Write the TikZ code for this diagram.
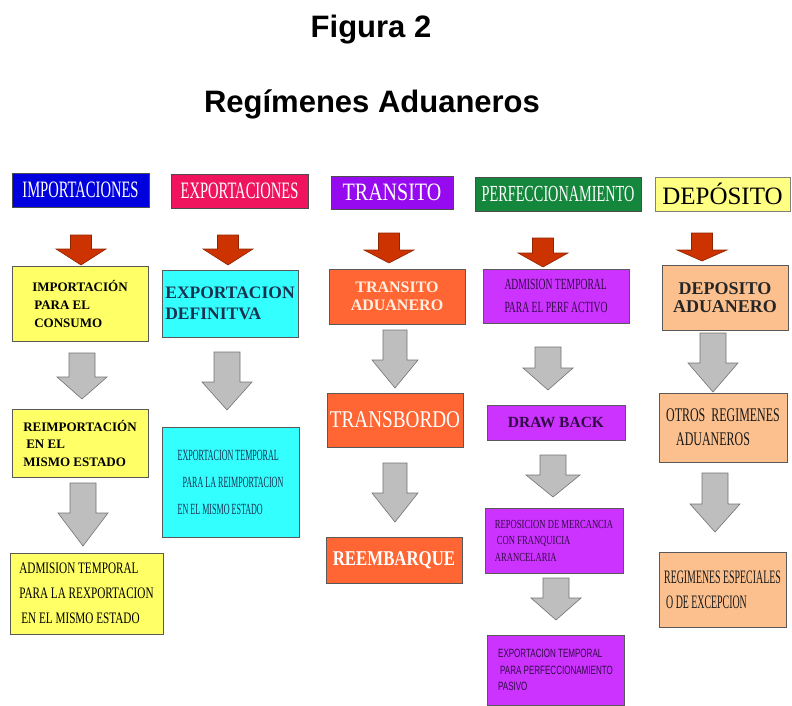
\documentclass[tikz,border=0pt]{standalone}
\usepackage{fontspec}
\setmainfont{Liberation Serif}
\newfontfamily\titlefont{Liberation Sans}
\newfontfamily\serifxn{Liberation Serif}[FakeStretch=0.52]
\newfontfamily\serifn{Liberation Serif}[FakeStretch=0.62]
\newfontfamily\serifm{Liberation Serif}[FakeStretch=0.7]
\newfontfamily\serifs{Liberation Serif}[FakeStretch=0.8]
\newfontfamily\sansn{Liberation Sans}[FakeStretch=0.67]

\definecolor{impblue}{RGB}{0,0,222}
\definecolor{exppink}{RGB}{240,20,95}
\definecolor{trapurple}{RGB}{150,10,240}
\definecolor{pergreen}{RGB}{20,135,60}
\definecolor{depyellow}{RGB}{255,255,130}
\definecolor{boxyellow}{RGB}{255,255,102}
\definecolor{boxcyan}{RGB}{51,255,255}
\definecolor{boxorange}{RGB}{255,102,51}
\definecolor{boxpurple}{RGB}{204,51,255}
\definecolor{boxpeach}{RGB}{252,192,142}
\definecolor{arrowred}{RGB}{204,51,0}
\definecolor{arrowgray}{RGB}{190,190,190}
\definecolor{cyantext}{RGB}{25,50,80}
\definecolor{purpletext}{RGB}{50,10,70}
\definecolor{cream}{RGB}{255,240,225}

\tikzset{every picture/.style={line width=0.75pt}}
\tikzset{
	head/.style={draw=black!70, line width=0.8pt, minimum height=34pt, inner sep=0pt, text=white},
	box/.style={draw=black!65, line width=0.8pt, inner sep=0pt, align=left},
	redarrow/.style={fill=arrowred, draw=arrowred!70!black, line width=0.6pt},
	grayarrow/.style={fill=arrowgray, draw=black!55, line width=0.6pt},
	pics/downarrow/.style args={#1/#2/#3/#4}{code={
		\path[pic actions] (-#3,0) -- (#3,0) -- (#3,-#1) -- (#4,-#1) -- (0,-#2) -- (-#4,-#1) -- (-#3,-#1) -- cycle ;}}
}

\begin{document}
\begin{tikzpicture}[x=1pt,y=1pt,yscale=-1,xscale=1]
	\useasboundingbox (0,0) rectangle (792,706);

	% Title
	\node[anchor=base, font=\titlefont\bfseries\fontsize{31}{31}\selectfont] (fig) at (371,38) {Figura 2};
	\node[anchor=base, font=\titlefont\bfseries\fontsize{31}{31}\selectfont] (tit) at (372,113) {Regímenes Aduaneros};

	%Shape: Header boxes
	\node[head, fill=impblue, minimum width=137pt, font=\serifn\fontsize{23.5}{23.5}\selectfont] (himp) at (80.5,190) {IMPORTACIONES};
	\node[head, fill=exppink, minimum width=137pt, font=\serifn\fontsize{23.5}{23.5}\selectfont] (hexp) at (239.5,191) {EXPORTACIONES};
	\node[head, fill=trapurple, minimum width=122pt, minimum height=33pt, font=\serifs\fontsize{25}{25}\selectfont] (htra) at (392,192.5) {TRANSITO};
	\node[head, fill=pergreen, minimum width=166pt, font=\serifn\fontsize{23}{23}\selectfont] (hper) at (558,194) {PERFECCIONAMIENTO};
	\node[head, fill=depyellow, draw=black!50, text=black, minimum width=135pt, font=\fontsize{25}{25}\selectfont] (hdep) at (722.5,194) {DEPÓSITO};

	%Shape: Red arrows
	\pic[redarrow] at (81,235) {downarrow=14/30/10.5/25};
	\pic[redarrow] at (228,235) {downarrow=14/30/10.5/25};
	\pic[redarrow] at (389,233) {downarrow=17/30/10.5/25};
	\pic[redarrow] at (543,238) {downarrow=15/29/10.5/25};
	\pic[redarrow] at (702,233) {downarrow=17/28/10.5/25};

	%Shape: Importaciones
	\node[box, fill=boxyellow, minimum width=136pt, minimum height=75pt, font=\bfseries\fontsize{13}{18}\selectfont] (imp1) at (80,303.5) {IMPORTACIÓN\\\hspace*{2pt}PARA EL\\\hspace*{2pt}CONSUMO};
	\node[box, fill=boxyellow, minimum width=136pt, minimum height=68pt, font=\bfseries\fontsize{13}{17.5}\selectfont] (imp2) at (80,443) {REIMPORTACIÓN\\\hspace*{3pt}EN EL\\MISMO ESTADO};
	\node[box, fill=boxyellow, minimum width=153pt, minimum height=81pt, font=\serifm\fontsize{16}{25}\selectfont] (imp3) at (86.5,593.5) {ADMISION TEMPORAL\\PARA LA REXPORTACION\\\hspace*{2pt}EN EL MISMO ESTADO};

	%Shape: Exportaciones
	\node[box, fill=boxcyan, text=cyantext, minimum width=136pt, minimum height=67pt, font=\bfseries\fontsize{17.5}{21}\selectfont] (exp1) at (230,303.5) {EXPORTACION\\DEFINITVA};
	\node[box, fill=boxcyan, text=cyantext, minimum width=137pt, minimum height=110pt, font=\serifxn\fontsize{15.5}{27}\selectfont] (exp2) at (230.5,482) {EXPORTACION TEMPORAL\\\hspace*{5pt}PARA LA REIMPORTACION\\EN EL MISMO ESTADO};

	%Shape: Transito
	\node[box, align=center, fill=boxorange, text=cream, minimum width=136pt, minimum height=55pt, font=\bfseries\fontsize{16}{18}\selectfont] (tra1) at (397,296.5) {TRANSITO\\ADUANERO};
	\node[box, fill=boxorange, text=white, minimum width=136pt, minimum height=54pt, font=\serifs\fontsize{24}{24}\selectfont] (tra2) at (395,420) {TRANSBORDO};
	\node[box, fill=boxorange, text=white, minimum width=136pt, minimum height=46pt, font=\serifs\bfseries\fontsize{21}{21}\selectfont] (tra3) at (394,560) {REEMBARQUE};

	%Shape: Perfeccionamiento
	\node[box, fill=boxpurple, text=purpletext, minimum width=146pt, minimum height=54pt, font=\serifn\fontsize{15.5}{23}\selectfont] (per1) at (556,296) {ADMISION TEMPORAL\\PARA EL PERF ACTIVO};
	\node[box, fill=boxpurple, text=purpletext, minimum width=138pt, minimum height=35pt, font=\bfseries\fontsize{15.5}{15.5}\selectfont] (per2) at (556,422.5) {DRAW BACK};
	\node[box, fill=boxpurple, text=purpletext, minimum width=138pt, minimum height=65pt, font=\serifm\fontsize{12.3}{16.5}\selectfont] (per3) at (554,540.5) {REPOSICION DE MERCANCIA\\\hspace*{2pt}CON FRANQUICIA\\ARANCELARIA};
	\node[box, fill=boxpurple, text=purpletext, minimum width=137pt, minimum height=70pt, font=\sansn\fontsize{12}{16.5}\selectfont] (per4) at (555.5,670) {EXPORTACION TEMPORAL\\\hspace*{2pt}PARA PERFECCIONAMIENTO\\PASIVO};

	%Shape: Deposito
	\node[box, align=center, fill=boxpeach, text=black!85, minimum width=126pt, minimum height=65pt, font=\bfseries\fontsize{18}{17.5}\selectfont] (dep1) at (725,297.5) {DEPOSITO\\ADUANERO};
	\node[box, fill=boxpeach, text=black!90, minimum width=128pt, minimum height=69pt, font=\serifn\fontsize{19.3}{24}\selectfont] (dep2) at (723,427.5) {OTROS\ \ REGIMENES\\\hspace*{10pt}ADUANEROS};
	\node[box, fill=boxpeach, text=black!90, minimum width=127pt, minimum height=75pt, font=\serifxn\fontsize{19}{25}\selectfont] (dep3) at (722.5,589.5) {REGIMENES ESPECIALES\\\hspace*{2pt}O DE EXCEPCION};

	%Shape: Gray arrows
	\pic[grayarrow] at (82,353) {downarrow=24/46/13/25};
	\pic[grayarrow] at (83,483) {downarrow=30/63/13/25};
	\pic[grayarrow] at (227,352) {downarrow=30/58/13/25};
	\pic[grayarrow] at (395,330) {downarrow=30/58/12/23};
	\pic[grayarrow] at (395,463) {downarrow=30/59/12/23};
	\pic[grayarrow] at (548,347) {downarrow=21/43/13/25};
	\pic[grayarrow] at (553,455) {downarrow=20/42/13/27};
	\pic[grayarrow] at (556,578) {downarrow=20/42/13/25};
	\pic[grayarrow] at (713,333) {downarrow=30/59/13/25};
	\pic[grayarrow] at (715,473) {downarrow=31/59/13/25};

\end{tikzpicture}
\end{document}
